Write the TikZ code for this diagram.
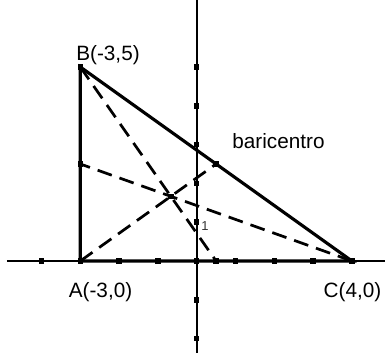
\documentclass[tikz,border=0pt]{standalone}
\usepackage{fontspec}
\setmainfont{Liberation Sans}
\begin{document}
\begin{tikzpicture}[
  axisline/.style={line width=1.4pt},
  side/.style={line width=2.3pt},
  median/.style={line width=2pt, dash pattern=on 11pt off 6pt},
  dot/.style={fill=black, minimum size=4pt, inner sep=0pt, draw=none, rectangle},
  lbl/.style={anchor=base, inner sep=0pt, font=\fontsize{15.2}{18}\selectfont},
  small/.style={anchor=base, inner sep=0pt, font=\fontsize{9.5}{11}\selectfont, text=black!80}
]
\useasboundingbox (-5.07,-2.423) rectangle (4.853,6.727);
% axes
\coordinate (xl) at (-4.89,0);
\coordinate (xr) at (4.853,0);
\coordinate (yb) at (0,-2.37);
\coordinate (yt) at (0,6.727);
\draw[axisline] (xl) -- (xr);
\draw[axisline] (yb) -- (yt);
% vertices, midpoints, centroid
\coordinate (A) at (-3,0);
\coordinate (B) at (-3,5);
\coordinate (C) at (4,0);
\coordinate (Mab) at (-3,2.5);
\coordinate (Mbc) at (0.5,2.5);
\coordinate (Mac) at (0.5,0);
\coordinate (G) at (-2/3,5/3);
% medians
\draw[median] (B) -- (Mac);
\draw[median] (A) -- (Mbc);
\draw[median] (C) -- (Mab);
% triangle
\draw[side] (A) -- (B) -- (C) -- cycle;
% tick dots
\foreach \x in {-4,-3,-2,-1,0,0.5,1,2,3,4}
  \node[dot] (tx\x) at (\x,0) {};
\foreach \y in {-2,-1,1,2,3,4,5}
  \node[dot] (ty\y) at (0,\y) {};
\node[dot] (dB) at (B) {};
\node[dot] (dMab) at (Mab) {};
\node[dot] (dMbc) at (Mbc) {};
\node[dot] (dG) at (G) {};
% labels
\node[lbl] (lB) at (-2.286,5.16) {B(-3,5)};
\node[lbl] (lA) at (-2.479,-0.928) {A(-3,0)};
\node[lbl] (lC) at (4.015,-0.928) {C(4,0)};
\node[lbl] (lbar) at (2.108,2.887) {baricentro};
\node[small] (l1) at (0.21,0.781) {1};
\end{tikzpicture}
\end{document}
